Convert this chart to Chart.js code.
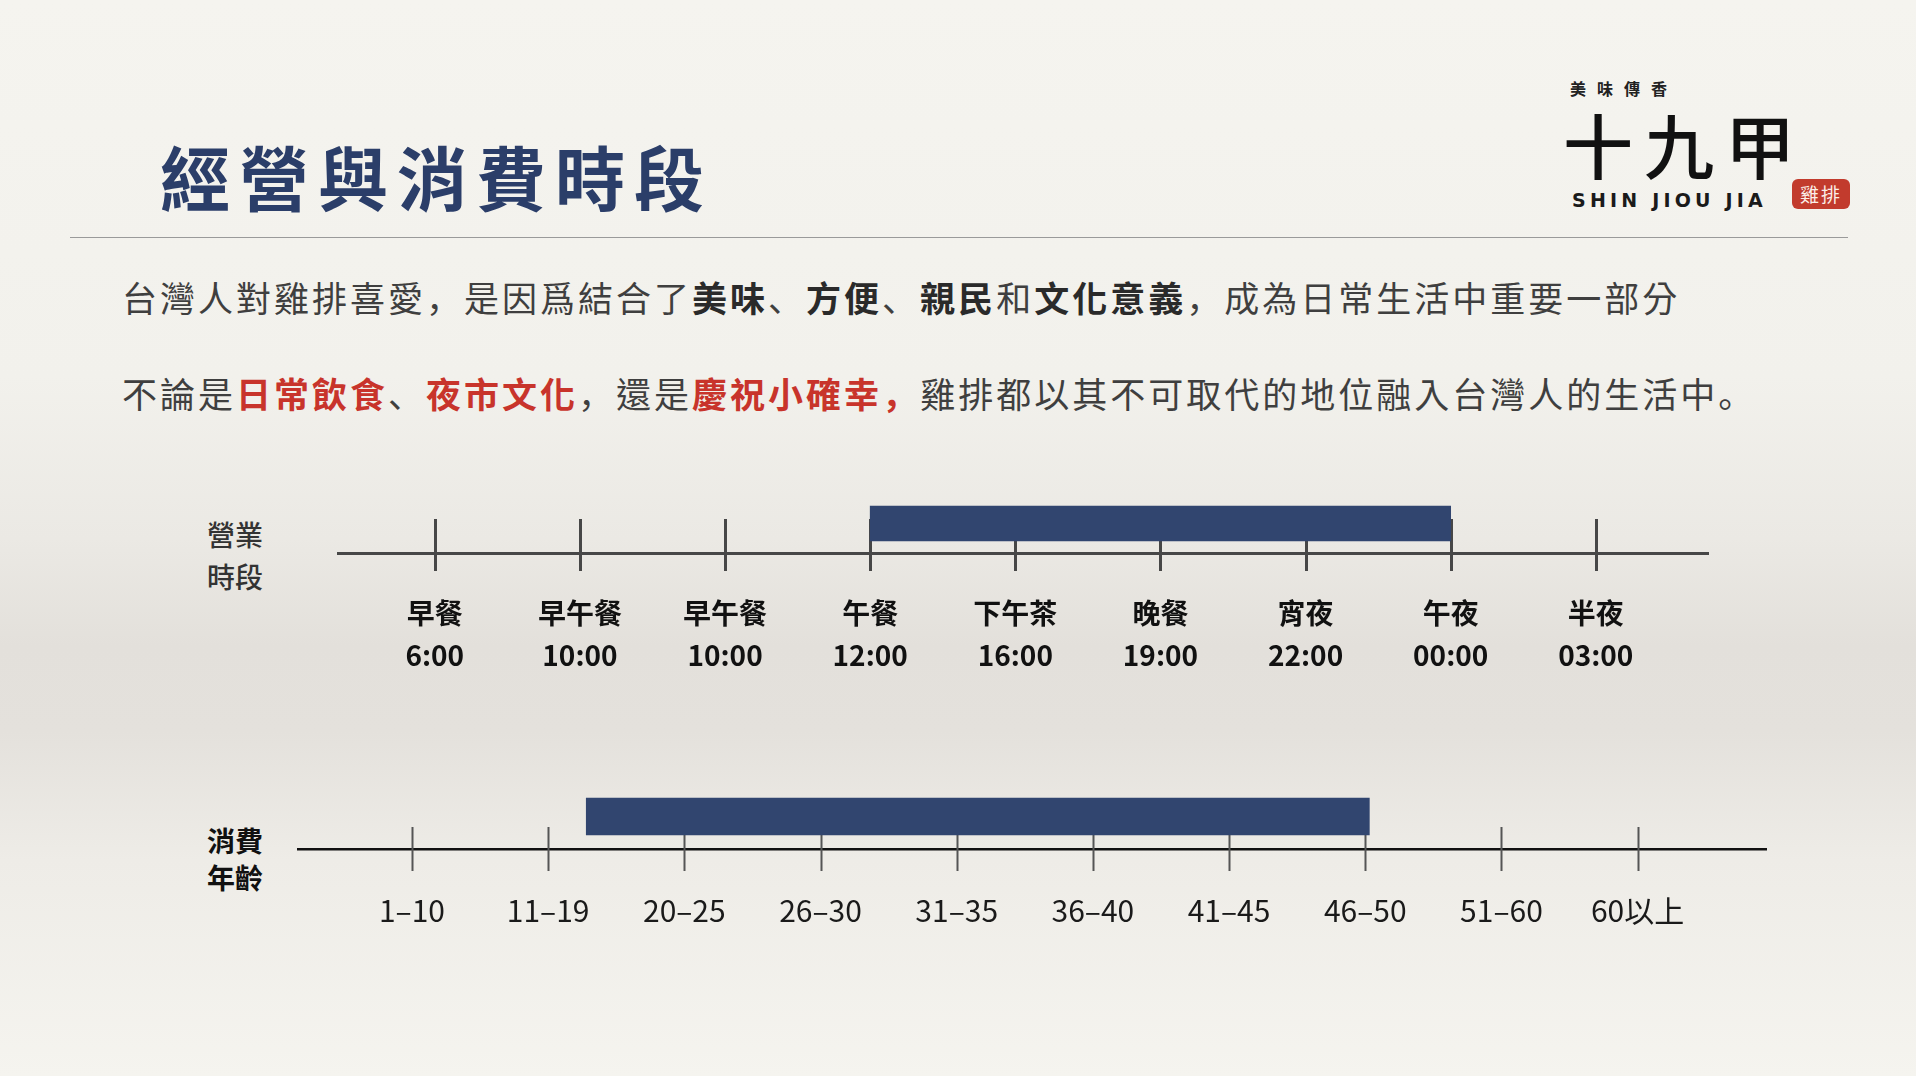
<!DOCTYPE html>
<html lang="zh-Hant">
<head>
<meta charset="utf-8">
<title>經營與消費時段</title>
<script src="https://cdn.jsdelivr.net/npm/chart.js@4.4.1/dist/chart.umd.min.js"></script>
<style>
  html, body { margin: 0; padding: 0; }
  body {
    width: 1916px; height: 1076px; overflow: hidden; position: relative;
    font-family: 'Noto Sans CJK TC', 'Noto Sans', sans-serif;
    background: linear-gradient(180deg, #f5f4ef 0%, #f2f1ec 35%, #ebe9e4 50%, #e3e0db 60%, #e4e1dc 68%, #eeece7 80%, #f5f4ef 100%);
  }
  .abs { position: absolute; white-space: nowrap; }
  #title { left: 160px; top: 136px; font-size: 70px; line-height: 80px; font-weight: 700; color: #2b3e69; letter-spacing: 9px; }
  #rule { left: 70px; top: 237px; width: 1778px; height: 0; border-top: 1.5px solid #9a9a9a; }
  #slogan { left: 1570px; top: 76px; font-size: 16px; line-height: 24px; font-weight: 700; color: #222; letter-spacing: 11px; }
  #brand { left: 1563px; top: 102px; font-size: 70px; line-height: 84px; font-weight: 500; color: #111; letter-spacing: 11px; }
  #brandEn { left: 1572px; top: 188px; font-family: 'DejaVu Sans', sans-serif; font-size: 19px; line-height: 24px; font-weight: 700; color: #1a1a1a; letter-spacing: 4.2px; }
  #stamp { left: 1792px; top: 179px; width: 58px; height: 30px; background: #c23b2d; border-radius: 6px; color: #fbeee8; font-size: 19px; line-height: 30px; text-align: center; letter-spacing: 2px; }
  .para { left: 122px; font-size: 35px; line-height: 40px; color: #3f3f3f; letter-spacing: 3px; }
  .para b { color: #2a2a2a; font-weight: 700; }
  .para .red { color: #c8342b; font-weight: 700; }
  .pu { font-family: 'Noto Sans CJK JP', 'Noto Sans CJK SC', sans-serif; }
  #p1 { top: 277px; }
  #p2 { top: 373px; }
  .side { font-size: 28px; line-height: 42px; color: #222; font-weight: 700; left: 207px; }
  #side1 { top: 513px; font-weight: 500; color: #333; }
  #side2 { top: 822px; line-height: 37px; color: #111; }
  canvas { position: absolute; }
  #hoursChart { left: 337px; top: 470px; }
  #ageChart { left: 297px; top: 760px; }
</style>
</head>
<body>
<div class="abs" id="title">經營與消費時段</div>
<div class="abs" id="rule"></div>
<div class="abs" id="slogan">美味傳香</div>
<div class="abs" id="brand">十九甲</div>
<div class="abs" id="brandEn">SHIN JIOU JIA</div>
<div class="abs" id="stamp">雞排</div>

<div class="abs para" id="p1">台灣人對雞排喜愛<span class="pu" lang="ja">，</span>是因爲結合了<b>美味</b><span class="pu" lang="ja">、</span><b>方便</b><span class="pu" lang="ja">、</span><b>親民</b>和<b>文化意義</b><span class="pu" lang="ja">，</span>成為日常生活中重要一部分</div>
<div class="abs para" id="p2">不論是<span class="red">日常飲食</span><span class="pu" lang="ja">、</span><span class="red">夜市文化</span><span class="pu" lang="ja">，</span>還是<span class="red">慶祝小確幸<span class="pu" lang="ja">，</span></span>雞排都以其不可取代的地位融入台灣人的生活中<span class="pu" lang="ja">。</span></div>

<div class="abs side" id="side1">營業<br>時段</div>
<div class="abs side" id="side2">消費<br>年齡</div>

<canvas id="hoursChart" width="1372" height="220"></canvas>
<canvas id="ageChart" width="1470" height="200"></canvas>

<script>
// business hours timeline
var timeNames = ['早餐', '早午餐', '早午餐', '午餐', '下午茶', '晚餐', '宵夜', '午夜', '半夜'];
var timeClock = ['6:00', '10:00', '10:00', '12:00', '16:00', '19:00', '22:00', '00:00', '03:00'];
var openSpan = [3, 7];        // 午餐 12:00 -> 午夜 00:00

// customer age timeline
var ageGroups = ['1–10', '11–19', '20–25', '26–30', '31–35', '36–40', '41–45', '46–50', '51–60', '60以上'];
var ageSpan = [1.28, 7.03];   // mid 11–19 -> 46–50

var BAR_COLOR = '#31456f';
var FONT = "'Noto Sans CJK TC', 'Noto Sans', sans-serif";

// tick marks that cross the axis line (chart.js only draws them on one side)
var crossTicks = {
  id: 'crossTicks',
  beforeDatasetsDraw: function (chart, args, opts) {
    var scale = chart.scales.x;
    var ctx = chart.ctx;
    var y = scale.top;
    ctx.save();
    ctx.strokeStyle = opts.color;
    ctx.lineWidth = opts.width;
    scale.ticks.forEach(function (t) {
      var x = Math.round(scale.getPixelForValue(t.value)) + 0.5;
      ctx.beginPath();
      ctx.moveTo(x, y - opts.up);
      ctx.lineTo(x, y + opts.down);
      ctx.stroke();
    });
    ctx.restore();
  }
};

function timeline(canvasId, cfg) {
  return new Chart(document.getElementById(canvasId), {
    type: 'bar',
    data: {
      labels: [''],
      datasets: [{
        data: [cfg.span],
        backgroundColor: BAR_COLOR,
        borderWidth: 0,
        borderSkipped: false,
        barThickness: cfg.barThickness
      }]
    },
    options: {
      indexAxis: 'y',
      responsive: false,
      animation: false,
      layout: { padding: { top: cfg.padTop, left: 0, right: 0, bottom: 0 } },
      plugins: {
        legend: { display: false },
        tooltip: { enabled: false },
        crossTicks: cfg.ticks
      },
      scales: {
        y: { display: false },
        x: {
          type: 'linear',
          min: cfg.min,
          max: cfg.max,
          afterBuildTicks: function (s) {
            s.ticks = cfg.labels.map(function (_, i) { return { value: i }; });
          },
          afterFit: function (s) { s.height = cfg.scaleHeight; },
          grid: { display: false, drawTicks: false },
          border: { display: true, color: cfg.axisColor, width: cfg.axisWidth },
          ticks: {
            autoSkip: false,
            maxRotation: 0,
            padding: cfg.labelPad,
            color: cfg.labelColor,
            font: cfg.font,
            callback: function (v) { return cfg.labels[v]; }
          }
        }
      }
    },
    plugins: [crossTicks]
  });
}

timeline('hoursChart', {
  labels: timeNames.map(function (n, i) { return [n, timeClock[i]]; }),
  span: openSpan,
  min: -0.674, max: 8.78,
  barThickness: 35,
  padTop: 24,
  scaleHeight: 137,
  axisColor: '#474747', axisWidth: 3,
  ticks: { color: '#474747', width: 3, up: 34, down: 18 },
  labelPad: 39,
  labelColor: '#111',
  font: { family: FONT, size: 28, weight: 'bold', lineHeight: 1.5 }
});

timeline('ageChart', {
  labels: ageGroups,
  span: ageSpan,
  min: -0.844, max: 9.95,
  barThickness: 37,
  padTop: 24,
  scaleHeight: 111,
  axisColor: '#111', axisWidth: 2.5,
  ticks: { color: '#555', width: 2, up: 22, down: 22 },
  labelPad: 44,
  labelColor: '#1a1a1a',
  font: { family: FONT, size: 30, weight: 'normal', lineHeight: 1.2 }
});
</script>
</body>
</html>
